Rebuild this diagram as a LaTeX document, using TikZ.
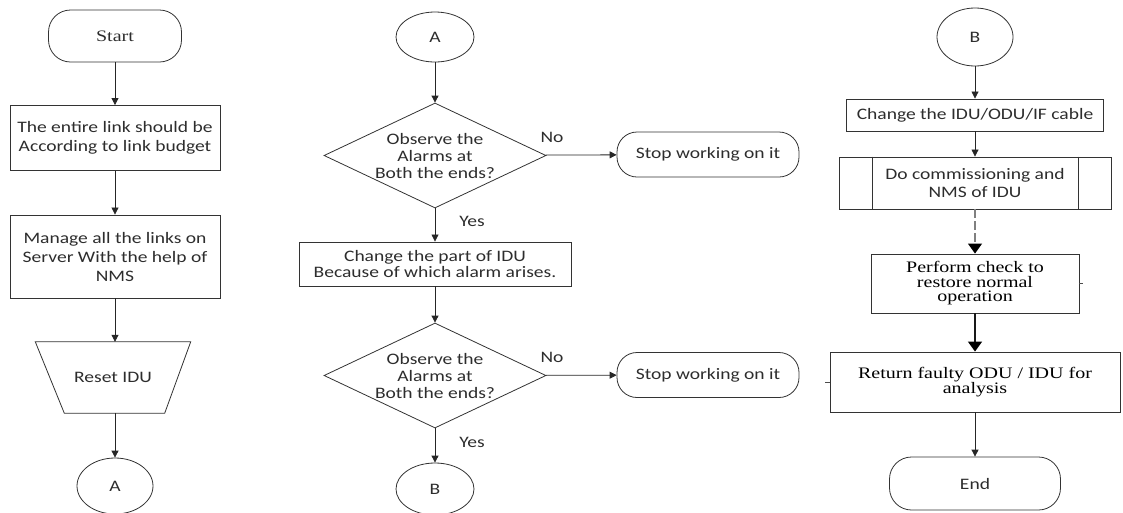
\documentclass[tikz,border=0pt]{standalone}
\usepackage{fontspec}
\setmainfont{Carlito}[FakeStretch=1.22]
\newfontfamily\serifface{Liberation Serif}[FakeStretch=1.25]
\usetikzlibrary{shapes.geometric,arrows.meta}
\definecolor{inkgray}{RGB}{45,45,45}

\begin{document}
\begin{tikzpicture}[x=1pt, y=1pt, yscale=-1,
    every node/.style={text=inkgray, font=\fontsize{16}{19}\selectfont},
    procbox/.style={draw=black!80, line width=0.9pt, rectangle, align=center, inner sep=0pt},
    termbox/.style={draw=black!80, line width=0.8pt, rectangle, rounded corners=22pt, align=center, inner sep=0pt},
    connbox/.style={draw=black!80, line width=0.8pt, ellipse, inner sep=0pt},
    decibox/.style={draw=black!80, line width=0.8pt, diamond, aspect=2.1, inner sep=-4pt, align=center,
        minimum width=222pt, minimum height=105pt, font=\fontsize{16}{17}\selectfont},
    flow/.style={draw=black!85, line width=0.8pt, -{Triangle[length=7pt,width=7pt]}},
    bigflow/.style={draw=black!90, line width=1.5pt, -{Triangle[length=10pt,width=14pt,black]}}]
    % page frame
    \useasboundingbox (0,0) rectangle (1123,512);

    % first column
    \node[termbox, minimum width=133pt, minimum height=52pt, font=\serifface\fontsize{16}{19}\selectfont] (start) at (115,36) {Start};
    \node[procbox, minimum width=210pt, minimum height=65pt] (budget) at (115,138) {The entire link should be\\According to link budget};
    \node[procbox, minimum width=210pt, minimum height=83pt] (manage) at (115,256.5) {Manage all the links on\\Server With the help of\\NMS};
    \node[minimum width=155pt, minimum height=71pt, inner sep=0pt] (reset) at (113,377.5) {Reset IDU};
    \draw[black!80, line width=0.8pt] (reset.north west) -- (reset.north east) -- ([xshift=-26pt]reset.south east)
        -- ([xshift=29pt]reset.south west) -- cycle;
    \node[connbox, minimum width=76pt, minimum height=56pt] (conA) at (115,486) {A};
    \draw[flow] (start) -- (budget);
    \draw[flow] (budget) -- (manage);
    \draw[flow] (manage.south) -- (manage.south |- reset.north);
    \draw[flow] (reset.south -| conA) -- (conA);

    % second column
    \node[connbox, minimum width=78pt, minimum height=50pt] (conA2) at (435,37) {A};
    \node[decibox] (check1) at (435,155.5) {Observe the\\Alarms at\\Both the ends?};
    \node[termbox, rounded corners=20pt, minimum width=182pt, minimum height=45pt] (stop1) at (708,154.5) {Stop working on it};
    \node[procbox, minimum width=272pt, minimum height=44pt, font=\fontsize{16}{17}\selectfont] (part) at (435,264) {Change the part of IDU\\Because of which alarm arises.};
    \node[decibox] (check2) at (435,375.5) {Observe the\\Alarms at\\Both the ends?};
    \node[termbox, rounded corners=20pt, minimum width=182pt, minimum height=45pt] (stop2) at (708,375) {Stop working on it};
    \node[connbox, minimum width=78pt, minimum height=52pt] (conB) at (435,489) {B};
    % answers
    \node (no1) at (552,137) {No};
    \node (yes1) at (472,221) {Yes};
    \node (no2) at (552,357) {No};
    \node (yes2) at (472,442) {Yes};
    \draw[flow] (conA2) -- (check1);
    \draw[flow] (check1) -- (stop1);
    \draw[flow] (check1) -- (part);
    \draw[flow] (part) -- (check2);
    \draw[flow] (check2) -- (stop2);
    \draw[flow] (check2) -- (conB);

    % third column
    \node[connbox, minimum width=76pt, minimum height=58pt] (conB2) at (975,37) {B};
    \node[procbox, minimum width=257pt, minimum height=32pt] (cable) at (975,115) {Change the IDU/ODU/IF cable};
    \node[procbox, minimum width=272pt, minimum height=52pt, font=\fontsize{16}{18}\selectfont] (commission) at (975,183) {Do commissioning and\\NMS of IDU};
    \draw[draw=black!80, line width=0.9pt] ([xshift=34pt]commission.north west) -- ([xshift=34pt]commission.south west);
    \draw[draw=black!80, line width=0.9pt] ([xshift=-33pt]commission.north east) -- ([xshift=-33pt]commission.south east);
    \node[procbox, minimum width=208pt, minimum height=59pt, text=black, font=\serifface\fontsize{16}{14.5}\selectfont] (perform) at (975,283.5) {Perform check to\\restore normal\\operation};
    \node[procbox, minimum width=290pt, minimum height=60pt, text=black, font=\serifface\fontsize{16}{15.5}\selectfont] (faulty) at (975,382) {Return faulty ODU / IDU for\\analysis};
    \node[termbox, minimum width=171pt, minimum height=53pt] (finish) at (975,483.5) {End};
    \draw[flow] (conB2) -- (cable);
    \draw[flow] (cable) -- (commission);
    \draw[bigflow, draw=gray, line width=1.2pt, dash pattern=on 9pt off 3pt] (commission) -- (perform);
    \draw[bigflow] (perform) -- (faulty);
    \draw[flow] (faulty) -- (finish);
    % small ticks
    \draw[black!70, line width=0.6pt] (perform.east) -- ++(4,0);
    \draw[black!70, line width=0.6pt] (faulty.west) -- ++(-5,0);
\end{tikzpicture}
\end{document}
